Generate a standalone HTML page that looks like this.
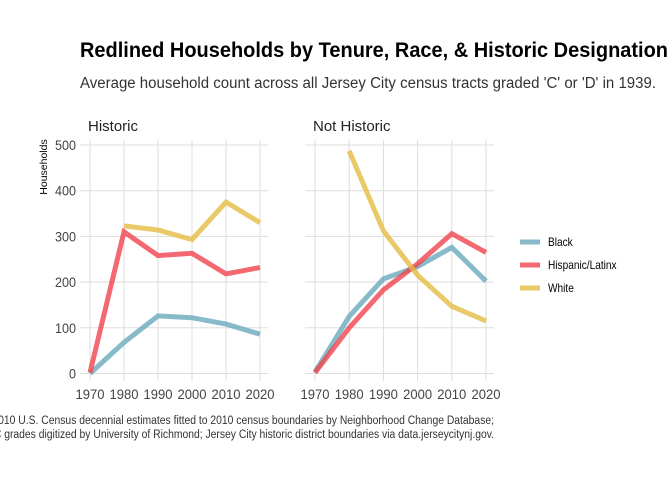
<!DOCTYPE html>
<html><head><meta charset="utf-8"><style>
body{margin:0;background:#fff;}
svg text{font-family:"Liberation Sans Narrow","Liberation Sans",sans-serif;}
</style></head><body>
<svg width="672" height="480" xmlns="http://www.w3.org/2000/svg">
<text x="80" y="57" font-size="21" font-weight="bold" fill="#000" textLength="588" lengthAdjust="spacingAndGlyphs">Redlined Households by Tenure, Race, &amp; Historic Designation</text>
<text x="80" y="88" font-size="15.5" fill="#333" textLength="576" lengthAdjust="spacingAndGlyphs">Average household count across all Jersey City census tracts graded 'C' or 'D' in 1939.</text>
<text transform="translate(47,167) rotate(-90)" text-anchor="middle" font-size="10.5" fill="#000">Households</text>
<g id="panels"></g>
<g id="legend"></g>
<g transform="translate(494,0) scale(0.9,1)">
<text x="0" y="424" text-anchor="end" font-size="11.5" fill="#333">Source: 1970-2010 U.S. Census decennial estimates fitted to 2010 census boundaries by Neighborhood Change Database;</text>
<text x="0" y="438" text-anchor="end" font-size="11.5" fill="#333">HOLC grades digitized by University of Richmond; Jersey City historic district boundaries via data.jerseycitynj.gov.</text>
</g>
</svg>
<script>
const years=[1970,1980,1990,2000,2010,2020];
const yTicks=[0,100,200,300,400,500];
const seriesNames=["Black","Hispanic/Latinx","White"];
const colors=["#6aaabb","#f0444f","#e5bb44"];
const histBlack=[0,68,126,122,108,86];
const histHisp=[2,310,258,263,218,232];
const histWhite=[null,323,314,293,375,330];
const notBlack=[3,125,207,234,276,202];
const notHisp=[2,100,183,240,306,265];
const notWhite=[null,487,312,215,147,115];
const panelTitles=["Historic","Not Historic"];
const panelData=[[histBlack,histHisp,histWhite],[notBlack,notHisp,notWhite]];
const NS="http://www.w3.org/2000/svg";
const g=document.getElementById('panels');
function mk(t,a,p){const e=document.createElementNS(NS,t);for(const k in a)e.setAttribute(k,a[k]);(p||g).appendChild(e);return e;}
const panels=[{x0:90,x1:260,l:80,r:268},{x0:315,x1:486,l:305,r:494}];
function yS(v){return 373.5-v*(228.5/500);}
panels.forEach((P,pi)=>{
  const xS=yr=>P.x0+(yr-1970)/50*(P.x1-P.x0);
  const pg=mk('g',{});
  
  
  const t=mk('text',{x:P.l+8,y:131,'font-size':15,fill:'#222'},pg);t.textContent=panelTitles[pi];
  
  
  yTicks.forEach(v=>{
    mk('line',{x1:P.l,x2:P.r,y1:yS(v),y2:yS(v),stroke:'#ddd','stroke-width':1},pg);
    if(pi===0){const s=String(v);const tt=mk('text',{x:76,y:yS(v)+5,'text-anchor':'end','font-size':14,fill:'#444',textLength:s.length*7,lengthAdjust:'spacingAndGlyphs'},pg);tt.textContent=s;
      
      }
  });
  years.forEach(yr=>{
    mk('line',{x1:xS(yr),x2:xS(yr),y1:140,y2:381,stroke:'#ddd','stroke-width':1},pg);
    const tt=mk('text',{x:xS(yr),y:399,'text-anchor':'middle','font-size':14,fill:'#444',textLength:29,lengthAdjust:'spacingAndGlyphs'},pg);tt.textContent=yr;
    
    
  });
  panelData[pi].forEach((arr,si)=>{
    const pts=[];arr.forEach((v,i)=>{if(v!==null)pts.push(xS(years[i]).toFixed(1)+','+yS(v).toFixed(1));});
    const pl=mk('polyline',{points:pts.join(' '),fill:'none',stroke:colors[si],'stroke-width':5,'stroke-opacity':0.8},pg);
    
    
  });
});
const lg=document.getElementById('legend');
seriesNames.forEach((n,i)=>{
  const y=242+i*23;
  const ln=mk('line',{x1:520,x2:540,y1:y,y2:y,stroke:colors[i],'stroke-width':5,'stroke-opacity':0.8},lg);
  
  
  const t=mk('text',{x:548,y:y+4,'font-size':11.5,fill:'#000',transform:'translate(548,0) scale(0.88,1) translate(-548,0)'},lg);t.textContent=n;
  
  
});
</script>
</body></html>
